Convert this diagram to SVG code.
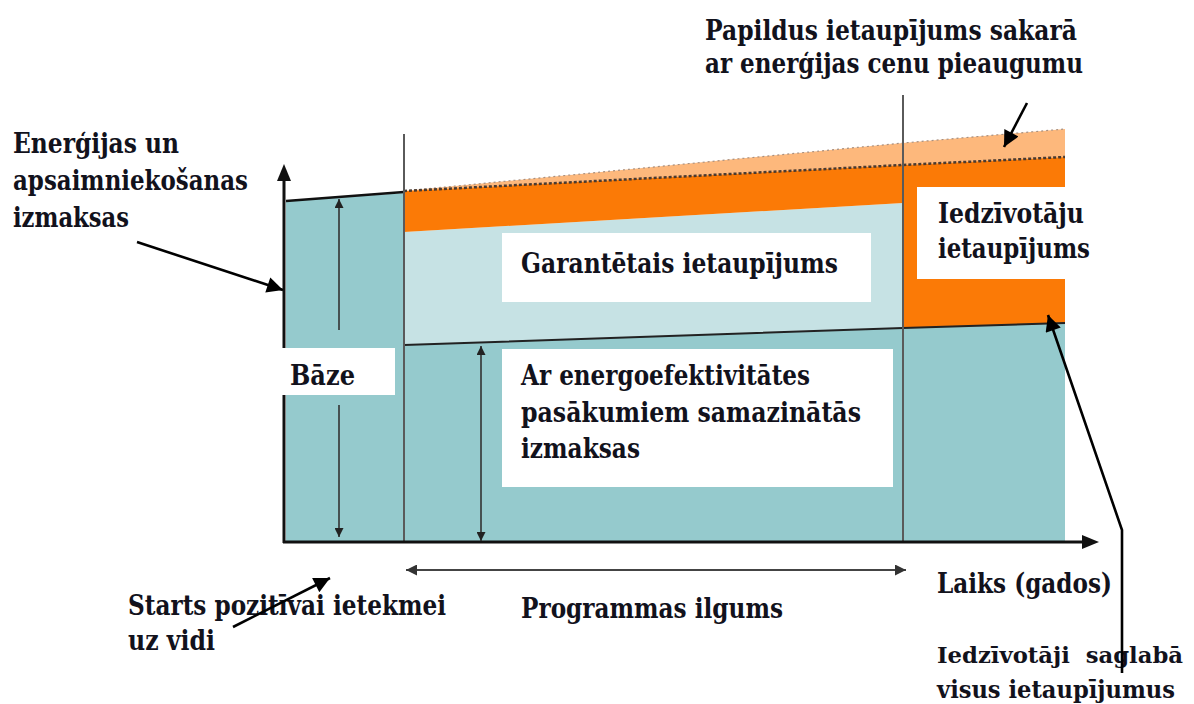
<svg xmlns="http://www.w3.org/2000/svg" width="1194" height="704" viewBox="0 0 1194 704">
<defs>
<style>
.t{font-family:'DejaVu Serif','Liberation Serif',serif;font-weight:bold;font-size:27.5px;fill:#12121c;white-space:pre}
.s{font-size:24px}
.s2{font-size:22px}
.box{fill:#ffffff}
.teal{fill:#95cacd}
.lblue{fill:#c6e2e4}
.orange{fill:#fb7a06}
.lorange{fill:#fdb87c}
.vline{stroke:#5a5a5a;stroke-width:2;fill:none}
.axis{stroke:#111;stroke-width:3;fill:none}
.dim{stroke:#333;stroke-width:1.6;fill:none}
.call{stroke:#000;stroke-width:2.6;fill:none}
</style>
<marker id="hd" viewBox="0 0 10 10" refX="10" refY="5" markerWidth="9" markerHeight="9" markerUnits="userSpaceOnUse" orient="auto-start-reverse"><path d="M0,0 L10,5 L0,10 z" fill="#222"/></marker>
<marker id="hc" viewBox="0 0 10 10" refX="10" refY="5" markerWidth="20" markerHeight="16" markerUnits="userSpaceOnUse" orient="auto"><path d="M0,0 L10,5 L0,10 z" fill="#000"/></marker>
<marker id="hp" viewBox="0 0 10 10" refX="10" refY="5" markerWidth="12" markerHeight="11" markerUnits="userSpaceOnUse" orient="auto-start-reverse"><path d="M0,0 L10,5 L0,10 z" fill="#333"/></marker>
</defs>
<rect width="1194" height="704" fill="#ffffff"/>
<g id="chart-areas">
<polygon class="teal" points="286,201 404,193 404,542 286,542"/>
<polygon class="teal" points="404,345 903,328 1065,323 1065,542 404,542"/>
<polygon class="lblue" points="404,232 903,203 903,328 404,345"/>
<polygon class="lorange" points="404,191 903,143 1065,129 1065,157 903,165"/>
<polygon class="orange" points="404,191 903,165 903,203 404,232"/>
<polygon class="orange" points="903,165 1065,157 1065,323 903,328"/>
<polyline points="404,191 903,143 1065,129" fill="none" stroke="#a89080" stroke-width="1.2" stroke-dasharray="2,3"/>
<polyline points="404,191 903,165 1065,157" fill="none" stroke="#4a3a30" stroke-width="2.5" stroke-dasharray="3,2"/>
<line x1="286" y1="201" x2="404" y2="192" stroke="#111" stroke-width="2.5"/>
<polyline points="404,345 903,328 1065,323" fill="none" stroke="#222" stroke-width="2"/>
<line class="vline" x1="404" y1="134" x2="404" y2="542"/>
<line class="vline" x1="903" y1="95" x2="903" y2="542"/>
</g>
<g id="axes">
<line class="axis" x1="284" y1="543" x2="284" y2="178"/>
<polygon points="284,164 277,181 291,181" fill="#111"/>
<line class="axis" x1="283" y1="542" x2="1084" y2="542"/>
<polygon points="1099,542 1082,535 1082,549" fill="#111"/>
</g>
<g id="node-baze">
<rect class="box" x="281" y="348" width="114" height="47"/>
<text class="t" x="290" y="385" textLength="65" lengthAdjust="spacingAndGlyphs">Bāze</text>
</g>
<g id="node-garantetais">
<rect class="box" x="502" y="233" width="369" height="69"/>
<text class="t" x="521" y="273" textLength="317" lengthAdjust="spacingAndGlyphs">Garantētais ietaupījums</text>
</g>
<g id="node-ar-energo">
<rect class="box" x="502" y="349" width="391" height="138"/>
<text class="t" x="521" y="385" textLength="289" lengthAdjust="spacingAndGlyphs">Ar energoefektivitātes</text>
<text class="t" x="521" y="422" textLength="340" lengthAdjust="spacingAndGlyphs">pasākumiem samazinātās</text>
<text class="t" x="521" y="458" textLength="119" lengthAdjust="spacingAndGlyphs">izmaksas</text>
</g>
<g id="node-iedzivotaju">
<rect class="box" x="917" y="187" width="149" height="92"/>
<text class="t" x="938" y="223" textLength="146" lengthAdjust="spacingAndGlyphs">Iedzīvotāju</text>
<text class="t" x="938" y="258" textLength="152" lengthAdjust="spacingAndGlyphs">ietaupījums</text>
</g>
<g id="node-papildus">
<text class="t" x="705" y="40" textLength="372" lengthAdjust="spacingAndGlyphs">Papildus ietaupījums sakarā</text>
<text class="t" x="705" y="73" textLength="378" lengthAdjust="spacingAndGlyphs">ar enerģijas cenu pieaugumu</text>
</g>
<g id="node-energijas">
<text class="t" x="13" y="153" textLength="166" lengthAdjust="spacingAndGlyphs">Enerģijas un</text>
<text class="t" x="13" y="190" textLength="235" lengthAdjust="spacingAndGlyphs">apsaimniekošanas</text>
<text class="t" x="13" y="227" textLength="116" lengthAdjust="spacingAndGlyphs">izmaksas</text>
</g>
<g id="node-laiks">
<text class="t" x="937" y="593" textLength="175" lengthAdjust="spacingAndGlyphs">Laiks (gados)</text>
</g>
<g id="node-saglaba">
<text class="t s2" x="937" y="663" textLength="246" lengthAdjust="spacingAndGlyphs">Iedzīvotāji  saglabā</text>
<text class="t s" x="937" y="698" textLength="238" lengthAdjust="spacingAndGlyphs">visus ietaupījumus</text>
</g>
<g id="node-starts">
<text class="t" x="128" y="615" textLength="318" lengthAdjust="spacingAndGlyphs">Starts pozitīvai ietekmei</text>
<text class="t" x="128" y="650" textLength="87" lengthAdjust="spacingAndGlyphs">uz vidi</text>
</g>
<g id="node-programmas">
<text class="t" x="521" y="618" textLength="262" lengthAdjust="spacingAndGlyphs">Programmas ilgums</text>
</g>
<g id="connectors">
<line class="dim" x1="339" y1="330" x2="339" y2="199" marker-end="url(#hd)"/>
<line class="dim" x1="339" y1="405" x2="339" y2="537" marker-end="url(#hd)"/>
<line class="dim" x1="481" y1="346" x2="481" y2="541" marker-start="url(#hd)" marker-end="url(#hd)"/>
<line x1="406" y1="570" x2="906" y2="570" stroke="#444" stroke-width="2" marker-start="url(#hp)" marker-end="url(#hp)"/>
<line class="call" x1="137" y1="242" x2="283" y2="290" marker-end="url(#hc)"/>
<line class="call" x1="1027" y1="103" x2="1004" y2="147" marker-end="url(#hc)"/>
<polyline class="call" points="1122,673 1122,530 1048,315" marker-end="url(#hc)"/>
<line class="call" x1="233" y1="627" x2="330" y2="578" marker-end="url(#hc)"/>
</g>
</svg>
